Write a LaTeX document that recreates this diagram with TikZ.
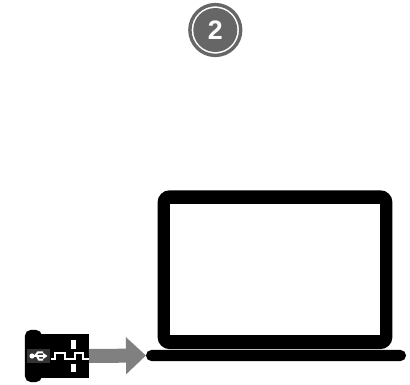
\documentclass[tikz,border=0pt]{standalone}
\usepackage{fontspec}
\setmainfont{Liberation Sans}
\usetikzlibrary{arrows.meta,positioning}

\begin{document}
\begin{tikzpicture}[
    x=0.025cm, y=-0.025cm,
    badge/.style={circle, draw=black!60, line width=0.085cm, fill=white, inner sep=0pt,
      minimum size=1.27cm},
    badgecore/.style={circle, fill=black!60, text=white, inner sep=0pt,
      minimum size=1.1cm, font=\fontsize{19}{19}\selectfont\bfseries},
    solid/.style={fill=black, inner sep=0pt, outer sep=0pt},
    fl/.style={-{Triangle[length=0.5cm, width=0.9cm]}, line width=0.35cm, black!50},
    pulse/.style={draw=white, line width=0.045cm}
  ]
    \useasboundingbox (0,0) rectangle (410,384);

    \node[badge] (ring) at (215.3,30) {};
    \node[badgecore] (num) at (215.3,30) {2};

    % laptop
    \node[solid, rounded corners=0.3cm, minimum width=5.87cm, minimum height=3.97cm]
      (lid) at (275,269.7) {};
    \node[fill=white, inner sep=0pt, minimum width=5.25cm, minimum height=3.28cm]
      (screen) at (275,269.5) {};
    \node[solid, rounded corners=0.14cm, minimum width=6.5cm, minimum height=0.28cm]
      (base) at (276,355.5) {};

    % dongle
    \node[solid, rounded corners=0.14cm, minimum width=0.42cm, minimum height=1.3cm]
      (cap) at (33.4,356) {};
    \node[solid, minimum width=1.3cm, minimum height=1.1cm] (usb) at (63,356) {};
    \draw[fl] (usb.east) -- (base.west);

    \node[fill=black!80, inner sep=0pt, minimum width=0.575cm, minimum height=0.35cm]
      (logo) at (38.5,356) {};
    \node[fill=white, inner sep=0pt, minimum width=0.13cm, minimum height=0.22cm]
      (padtop) at (73.3,344.5) {};
    \node[fill=white, inner sep=0pt, minimum width=0.13cm, minimum height=0.2cm]
      (padbot) at (73.3,368) {};

    \draw[pulse] (51,359) -- (55,359) -- (55,353) -- (65,353) -- (65,359)
      -- (75,359) -- (75,353) -- (83,353) -- (83,359) -- (usb.east |- 0,359);

    % usb symbol
    \draw[white, line width=0.055cm] (31,356) -- (46,356);
    \fill[white] (32,356) circle (2.6);
    \fill[white] (47.5,356) -- (43,352.8) -- (43,359.2) -- cycle;
    \draw[white, line width=0.05cm] (35,356) -- (38,352.3) -- (43,352.3);
    \draw[white, line width=0.05cm] (37,356) -- (39,359.7) -- (43,359.7);
  \end{tikzpicture}
\end{document}
